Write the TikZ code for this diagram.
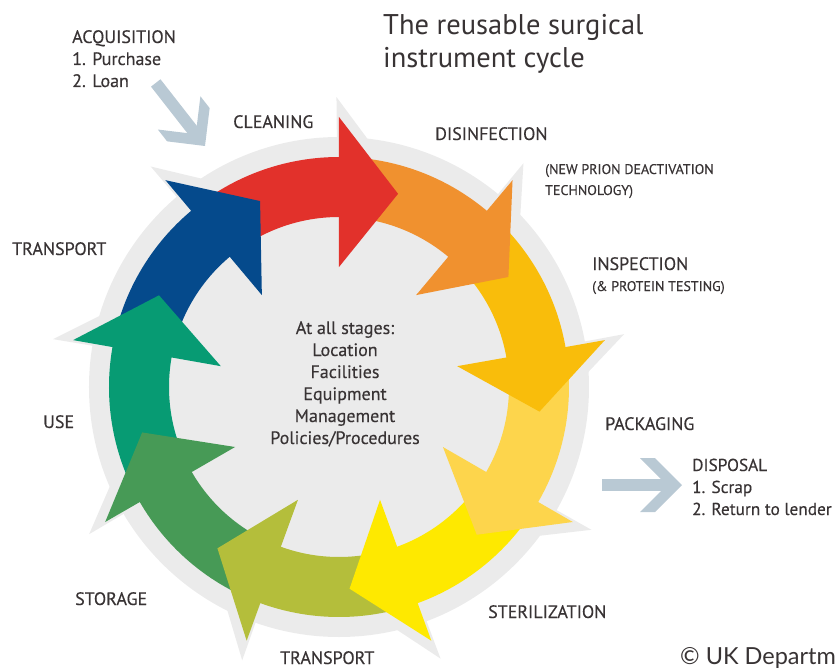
\documentclass[tikz,border=0pt]{standalone}
\usepackage{fontspec}
\setmainfont{PT Sans}
\newfontfamily\creditfont{Lato}
\definecolor{cred}{HTML}{E2312B}
\definecolor{corange}{HTML}{F0912F}
\definecolor{camber}{HTML}{F9BD0B}
\definecolor{cpale}{HTML}{FDD54C}
\definecolor{cyellow}{HTML}{FEE900}
\definecolor{colive}{HTML}{B4BE3B}
\definecolor{cgreen}{HTML}{479A56}
\definecolor{cteal}{HTML}{079B73}
\definecolor{cblue}{HTML}{054A8C}
\definecolor{discgray}{HTML}{EBEBEB}
\definecolor{pointergray}{HTML}{B9C9D4}
\definecolor{ink}{HTML}{383334}
\tikzstyle{stage}=[inner sep=0pt, anchor=base west, align=left, text=ink, font=\fontsize{18}{22}\selectfont\addfontfeature{FakeBold=0.3}]
\tikzstyle{note}=[inner sep=0pt, anchor=base west, align=left, text=ink, font=\fontsize{14}{21}\selectfont\addfontfeature{FakeBold=0.3}]
\tikzstyle{ttl}=[inner sep=0pt, anchor=base west, align=left, text=ink, font=\fontsize{28.5}{33}\selectfont]
\tikzstyle{centre}=[inner sep=0pt, anchor=base, align=center, text=ink, font=\fontsize{18}{22}\selectfont\addfontfeature{FakeBold=0.3}]
\tikzstyle{credit}=[inner sep=0pt, anchor=base west, text=ink, font=\creditfont\fontsize{23.5}{26}\selectfont]
\tikzstyle{halo}=[fill=discgray]
\tikzstyle{pointer}=[fill=pointergray]
\newcommand{\stage}{\node[stage]}
\newcommand{\ringhalo}[1]{\fill[halo] (#1+0.5:120) -- (#1+0.5:290) -- (#1-19:207) -- cycle;}
\newcommand{\ringbody}[2]{\fill[#2] (#1+35:230) arc[start angle=#1+35, end angle=#1-1, radius=230pt]
    -- (#1-1:170) arc[start angle=#1-1, end angle=#1+35, radius=170pt] -- cycle;}
\newcommand{\ringhead}[2]{\fill[#2] (#1:270) -- (#1-17:202) -- (#1:120) -- cycle;}
\newcommand{\graypointer}[2]{\begin{scope}[shift={(#1)}, rotate=#2]
    \fill[pointer] (-80,-6) -- (-12,-6) -- (-12,6) -- (-80,6) -- cycle;
    \fill[pointer] (-42,27) -- (-27,27) -- (0,0) -- (-27,-27) -- (-42,-27) -- (-15,0) -- cycle;
    \end{scope}}

\begin{document}
\begin{tikzpicture}[x=1pt, y=1pt]
\useasboundingbox (-339,-283) rectangle (497,387);
\fill[halo] (0,0) circle[radius=250pt];
\ringhalo{90} \ringhalo{50} \ringhalo{10} \ringhalo{-30} \ringhalo{-70}
\ringhalo{-110} \ringhalo{-150} \ringhalo{170} \ringhalo{130}
\ringbody{90}{cred}
\ringbody{50}{corange}
\ringbody{10}{camber}
\ringbody{-30}{cpale}
\ringbody{-70}{cyellow}
\ringbody{-110}{colive}
\ringbody{-150}{cgreen}
\ringbody{170}{cteal}
\ringbody{130}{cblue}
\ringhead{90}{cred}
\ringhead{50}{corange}
\ringhead{10}{camber}
\ringhead{-30}{cpale}
\ringhead{-70}{cyellow}
\ringhead{-110}{colive}
\ringhead{-150}{cgreen}
\ringhead{170}{cteal}
\ringhead{130}{cblue}

\node[ttl] (title) at (44,319) {The reusable surgical\\instrument cycle};
\stage (acq) at (-267,300) {ACQUISITION\\1. Purchase\\2. Loan};
\stage (clean) at (-106,259) {CLEANING};
\stage (disinf) at (96,247) {DISINFECTION};
\node[note] (prion) at (206,192) {(NEW PRION DEACTIVATION\\TECHNOLOGY)};
\stage (insp) at (253,117) {INSPECTION};
\node[note] (protein) at (253,96) {(\& PROTEIN TESTING)};
\stage (pack) at (266,-43) {PACKAGING};
\stage[font=\fontsize{17.3}{22}\selectfont\addfontfeature{FakeBold=0.3}] (disp) at (353,-128) {DISPOSAL\\1. Scrap\\2. Return to lender};
\stage (steril) at (149,-231) {STERILIZATION};
\stage (transb) at (-59,-277) {TRANSPORT};
\stage (store) at (-264,-218) {STORAGE};
\stage (use) at (-296,-41) {USE};
\stage (transl) at (-327,132) {TRANSPORT};
\node[centre] (stages) at (6,-57) {At all stages:\\Location\\Facilities\\Equipment\\Management\\Policies/Procedures};
\node[credit] (credit) at (341,-277) {\textcopyright\ UK Departm};

\coordinate (acq tip) at (-134,241);
\coordinate (disp tip) at (343,-98);
\graypointer{acq tip}{-52}
\graypointer{disp tip}{0}
\end{tikzpicture}
\end{document}
